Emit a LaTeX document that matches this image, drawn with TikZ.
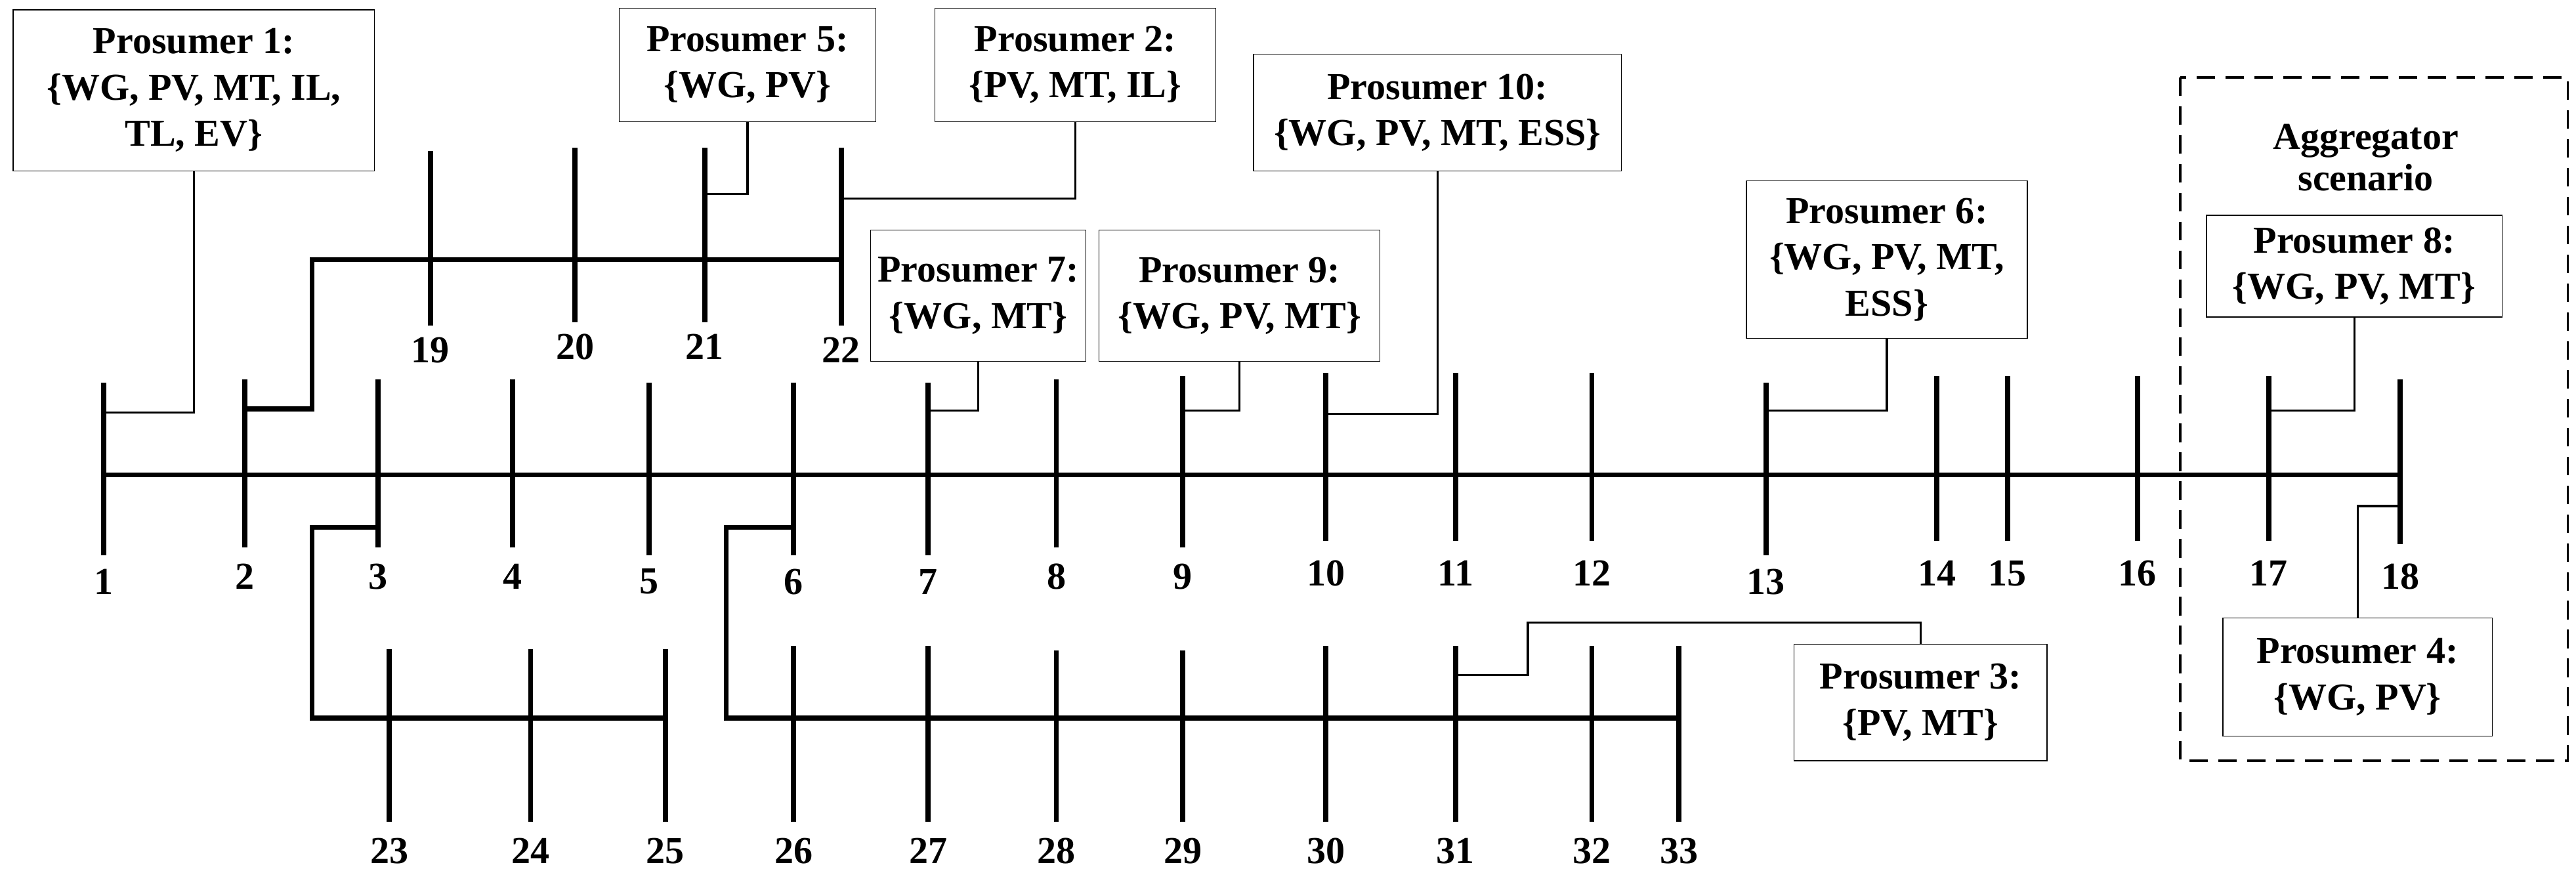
\documentclass[tikz,border=0pt]{standalone}
\usepackage{fontspec}
\setmainfont{Liberation Serif}
\begin{document}
\begin{tikzpicture}[x=0.05cm,y=-0.05cm,
  bus/.style={line width=4.4pt},
  feeder/.style={line width=4.4pt},
  conn/.style={line width=1.8pt},
  box/.style={draw,line width=0.8pt,align=center,inner sep=0pt,font=\fontsize{33}{40}\selectfont\bfseries},
  lbl/.style={font=\fontsize{33}{38}\selectfont\bfseries,inner sep=0pt}]
\useasboundingbox (0,0) rectangle (1568,530);
% buses: name/x/top/bottom/labely
\foreach \n/\x/\t/\b/\l in {1/63/233/338/354,2/149/231/333/351,3/230/231/333/351,4/312/231/333/351,5/395/233/338/354,6/483/233/338/354,7/565/233/338/354,8/643/231/333/351,9/720/229/333/351,10/807/227/329/349,11/886/227/329/349,12/969/227/329/349,13/1075/233/338/354,14/1179/229/329/349,15/1222/229/329/349,16/1301/229/329/349,17/1381/229/329/349,18/1461/231/331/351,19/262/92/198/213,20/350/90/196/211,21/429/90/196/211,22/512/90/198/213,23/237/395/500/518,24/323/395/500/518,25/405/395/500/518,26/483/393/500/518,27/565/393/500/518,28/643/396/500/518,29/720/396/500/518,30/807/393/500/518,31/886/393/500/518,32/969/393/500/518,33/1022/393/500/518}{
  \coordinate (t\n) at (\x,\t);
  \coordinate (b\n) at (\x,\b);
  \draw[bus] (t\n) -- (b\n);
  \node[lbl] (l\n) at (\x,\l) {\n};
}
% feeders
\draw[feeder] (63,289) -- (1461,289);
\coordinate (a2) at (149,249); \coordinate (a2b) at (190,249);
\draw[feeder] (a2) -- (a2b) -- (190,158) -- (512,158);
\coordinate (a3) at (230,321);
\draw[feeder] (a3) -- (190,321) -- (190,437) -- (405,437);
\coordinate (a6) at (483,321);
\draw[feeder] (a6) -- (442,321) -- (442,437) -- (1022,437);
% boxes
\node[box,minimum width=220*0.05cm,minimum height=98*0.05cm] (p1) at (118,55) {Prosumer 1:\\\{WG, PV, MT, IL,\\TL, EV\}};
\node[box,minimum width=156*0.05cm,minimum height=69*0.05cm] (p5) at (455,39.5) {Prosumer 5:\\\{WG, PV\}};
\node[box,minimum width=171*0.05cm,minimum height=69*0.05cm] (p2) at (654.5,39.5) {Prosumer 2:\\\{PV, MT, IL\}};
\node[box,minimum width=224*0.05cm,minimum height=71*0.05cm] (p10) at (875,68.5) {Prosumer 10:\\\{WG, PV, MT, ESS\}};
\node[box,minimum width=131*0.05cm,minimum height=80*0.05cm] (p7) at (595.5,180) {Prosumer 7:\\\{WG, MT\}};
\node[box,minimum width=171*0.05cm,minimum height=80*0.05cm] (p9) at (754.5,180) {Prosumer 9:\\\{WG, PV, MT\}};
\node[box,minimum width=171*0.05cm,minimum height=96*0.05cm] (p6) at (1148.5,158) {Prosumer 6:\\\{WG, PV, MT,\\ESS\}};
\node[box,minimum width=180*0.05cm,minimum height=62*0.05cm] (p8) at (1433,162) {Prosumer 8:\\\{WG, PV, MT\}};
\node[box,minimum width=164*0.05cm,minimum height=72*0.05cm] (p4) at (1435,412) {Prosumer 4:\\\{WG, PV\}};
\node[box,minimum width=154*0.05cm,minimum height=71*0.05cm] (p3) at (1169,427.5) {Prosumer 3:\\\{PV, MT\}};
\node[font=\fontsize{33}{36}\selectfont\bfseries,align=center,inner sep=0pt] (agg) at (1440,96) {Aggregator\\scenario};
\draw[line width=2.2pt,dash pattern=on 16pt off 9pt] (1327,47) rectangle (1563,463);
% connectors
\draw[conn] (p1.south) |- (63,251);
\draw[conn] (p5.south) |- (429,118);
\draw[conn] (p2.south) |- (512,121);
\draw[conn] (p10.south) |- (807,252);
\draw[conn] (p7.south) |- (565,250);
\draw[conn] (p9.south) |- (720,250);
\draw[conn] (p6.south) |- (1075,250);
\draw[conn] (p8.south) |- (1381,250);
\draw[conn] (p4.north) |- (1461,308);
\draw[conn] (p3.north) -- (1169,379) -- (930,379) -- (930,411) -- (886,411);
\end{tikzpicture}
\end{document}
